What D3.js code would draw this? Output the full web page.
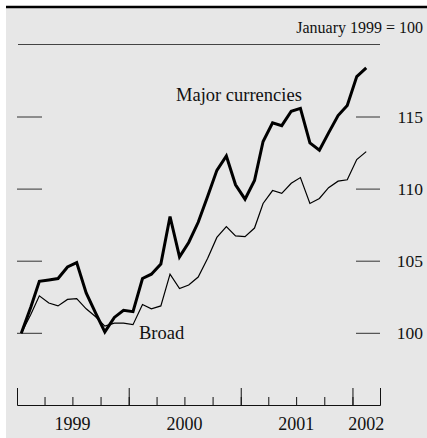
<!DOCTYPE html>
<html><head><meta charset="utf-8">
<script src="https://cdn.jsdelivr.net/npm/d3@7"></script>
<style>
html,body{margin:0;padding:0;background:#fff;}
svg{display:block;}
text{font-family:"Liberation Serif","Times New Roman",serif;fill:#111;}
</style></head>
<body>
<svg id="chart" width="427" height="438"></svg>
<script>
// Monthly index values, Jan 1999 .. Feb 2002 (January 1999 = 100)
const startYear = 1999;
const majorCurrencies = [100.0,101.8,103.6,103.7,103.8,104.6,104.9,102.8,101.4,100.1,
  101.1,101.6,101.5,103.8,104.1,104.8,108.1,105.3,106.3,107.7,109.5,111.3,112.3,110.3,
  109.3,110.6,113.3,114.6,114.4,115.4,115.6,113.2,112.7,113.9,115.1,115.8,117.8,118.4];
const broad = [100.0,101.3,102.6,102.1,101.9,102.35,102.4,101.7,101.15,100.5,
  100.7,100.7,100.6,102.0,101.7,101.9,104.1,103.1,103.35,103.9,105.2,106.65,107.4,106.75,
  106.7,107.3,109.0,109.9,109.7,110.4,110.8,109.0,109.35,110.1,110.55,110.65,112.05,112.6];
const yTicks = [100,105,110,115];
const yearLabels = ["1999","2000","2001","2002"];
const unitNote = "January 1999 = 100";
const seriesLabels = ["Major currencies","Broad"];

const svg = d3.select("#chart");
const W = 427, H = 438;

// background
svg.append("rect").attr("x",6).attr("y",8).attr("width",W-6).attr("height",H-8).attr("fill","#e7e7e7");
svg.append("line").attr("x1",6).attr("x2",W).attr("y1",7).attr("y2",7).attr("stroke","#000").attr("stroke-width",2.5);

const x = d3.scaleTime().domain([new Date(1999,0,1), new Date(2002,3,1)]).range([17,380]);
const y = d3.scaleLinear().domain([100,115]).range([333.3,117]);

const dates = majorCurrencies.map((d,i)=> new Date(startYear, i, 15));

// header
svg.append("text").attr("x",423).attr("y",33).attr("text-anchor","end").attr("font-size",16).text(unitNote);
svg.append("line").attr("x1",18).attr("x2",380).attr("y1",44.5).attr("y2",44.5).attr("stroke","#444").attr("stroke-width",1);

// y ticks left & right
const gy = svg.append("g");
yTicks.forEach(t=>{
  gy.append("line").attr("x1",17).attr("x2",42).attr("y1",y(t)).attr("y2",y(t)).attr("stroke","#333").attr("stroke-width",1);
  gy.append("line").attr("x1",356).attr("x2",380).attr("y1",y(t)).attr("y2",y(t)).attr("stroke","#333").attr("stroke-width",1);
  gy.append("text").attr("x",423).attr("y",y(t)+6).attr("text-anchor","end").attr("font-size",17.5).text(t);
});

// x axis
const axisY = 405;
const quarters = d3.timeMonth.every(3).range(new Date(1999,0,1), new Date(2002,3,2));
const years = [new Date(1999,0,1),new Date(2000,0,1),new Date(2001,0,1),new Date(2002,0,1),new Date(2002,3,1)];
const gMinor = svg.append("g").attr("transform",`translate(0,${axisY})`)
  .call(d3.axisBottom(x).tickValues(quarters).tickSizeInner(-8).tickSizeOuter(0).tickFormat(""));
const gMajor = svg.append("g").attr("transform",`translate(0,${axisY})`)
  .call(d3.axisBottom(x).tickValues(years).tickSizeInner(-17).tickSizeOuter(0).tickFormat(""));
[gMinor,gMajor].forEach(g=>{
  g.selectAll("line").attr("stroke","#111").attr("stroke-width",1);
  g.select(".domain").attr("stroke","#111").attr("stroke-width",1.2);
});
const labelDates = [new Date(1999,6,1),new Date(2000,6,1),new Date(2001,6,1),new Date(2002,1,15)];
yearLabels.forEach((lab,i)=>{
  svg.append("text").attr("x",x(labelDates[i])).attr("y",430).attr("text-anchor","middle").attr("font-size",18).text(lab);
});

// lines
const line = d3.line().x((d,i)=>x(dates[i])).y(d=>y(d));
svg.append("path").datum(broad).attr("d",line).attr("fill","none").attr("stroke","#000").attr("stroke-width",1.2).attr("stroke-linejoin","miter");
svg.append("path").datum(majorCurrencies).attr("d",line).attr("fill","none").attr("stroke","#000").attr("stroke-width",3).attr("stroke-linejoin","miter");

// series labels
svg.append("text").attr("x",176).attr("y",101).attr("font-size",18.5).text(seriesLabels[0]);
svg.append("text").attr("x",139).attr("y",338.5).attr("font-size",18.5).text(seriesLabels[1]);
</script>
</body></html>
